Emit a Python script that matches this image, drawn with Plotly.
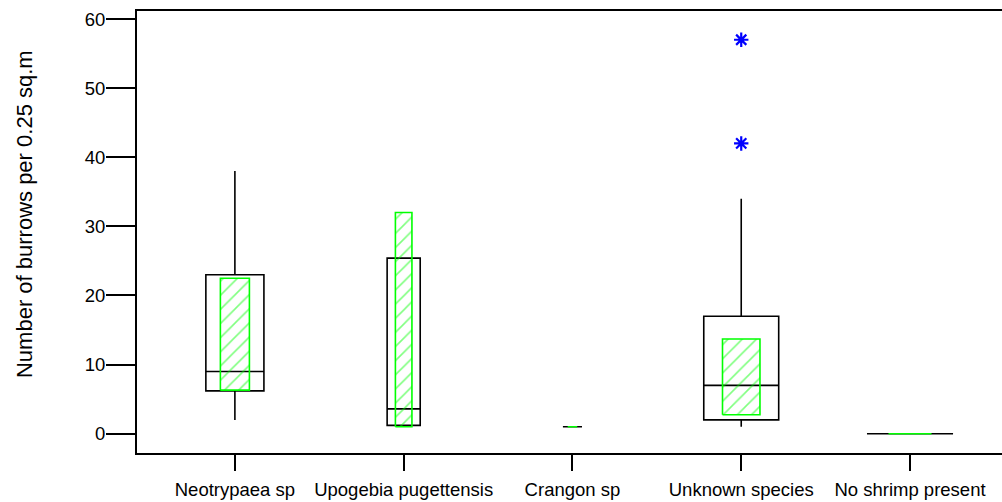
import plotly.graph_objects as go

# Burrow counts per 0.25 sq.m, summarised by shrimp species
categories = ["Neotrypaea sp", "Upogebia pugettensis", "Crangon sp",
              "Unknown species", "No shrimp present"]
lower_whisker = [2.0, 1.2, 1.0, 1.0, 0.0]
q1 = [6.2, 1.2, 1.0, 2.0, 0.0]
median = [9.0, 3.6, 1.0, 7.0, 0.0]
q3 = [23.0, 25.4, 1.0, 17.0, 0.0]
upper_whisker = [38.0, 25.4, 1.0, 34.0, 0.0]
# confidence interval for the median (hatched bar)
ci_low = [6.3, 1.0, 1.0, 2.75, 0.0]
ci_high = [22.5, 32.0, 1.0, 13.7, 0.0]
# outlying observations
outlier_cat = [4, 4]
outlier_val = [57.0, 42.0]

# box widths (x-axis units), scaled by group size
box_widths = [0.344, 0.196, 0.113, 0.444, 0.51]

FONT = "Arial, Liberation Sans, sans-serif"
GREEN = "#00ff00"

fig = go.Figure()

positions = list(range(1, len(categories) + 1))

for i, pos in enumerate(positions):
    fig.add_trace(go.Box(
        x=[pos], q1=[q1[i]], median=[median[i]], q3=[q3[i]],
        lowerfence=[lower_whisker[i]], upperfence=[upper_whisker[i]],
        width=box_widths[i], whiskerwidth=0,
        line=dict(color="black", width=1.6),
        fillcolor="rgba(0,0,0,0)", boxpoints=False,
        showlegend=False, hoverinfo="skip",
    ))

for i, pos in enumerate(positions):
    hw = box_widths[i] / 4
    fig.add_trace(go.Scatter(
        x=[pos - hw, pos + hw, pos + hw, pos - hw, pos - hw],
        y=[ci_low[i], ci_low[i], ci_high[i], ci_high[i], ci_low[i]],
        mode="lines", fill="toself",
        fillcolor="rgba(0,0,0,0)",
        fillpattern=dict(shape="/", fgcolor=GREEN,
                         bgcolor="rgba(0,0,0,0)", size=10, solidity=0.16),
        line=dict(color=GREEN, width=1.6),
        showlegend=False, hoverinfo="skip",
    ))

fig.add_trace(go.Scatter(
    x=outlier_cat, y=outlier_val, mode="markers",
    marker=dict(symbol="asterisk-open", size=12, color="#0000ff",
                opacity=1, line=dict(color="#0000ff", width=2.2)),
    showlegend=False, hoverinfo="skip",
))

fig.update_layout(
    width=1002, height=502,
    margin=dict(l=137, r=0, t=11, b=49),
    paper_bgcolor="white", plot_bgcolor="white",
    font=dict(family=FONT, color="black"),
    annotations=[dict(
        text="Number of burrows per 0.25 sq.m", textangle=-90,
        xref="paper", yref="paper", x=-0.1306, y=0.5407,
        xanchor="center", yanchor="middle", showarrow=False,
        font=dict(size=22, family=FONT, color="black"),
    )],
)
fig.update_xaxes(
    range=[0.42, 5.545], tickmode="array", tickvals=positions,
    ticktext=categories, showgrid=False, zeroline=False,
    showline=True, linecolor="black", linewidth=2, mirror=True,
    ticks="outside", ticklen=16, tickwidth=1.5, tickcolor="black",
    tickangle=0, automargin=False, ticklabelstandoff=3,
    tickfont=dict(size=18.5, family=FONT),
)
fig.update_yaxes(
    range=[-2.79, 61.16], tickmode="array",
    tickvals=[0, 10, 20, 30, 40, 50, 60], showgrid=False, zeroline=False,
    showline=True, linecolor="black", linewidth=2,
    ticks="outside", ticklen=29, tickwidth=1.5, tickcolor="black",
    automargin=False, ticklabelstandoff=-3,
    tickfont=dict(size=18.5, family=FONT),
)

fig.write_html("out.html")
